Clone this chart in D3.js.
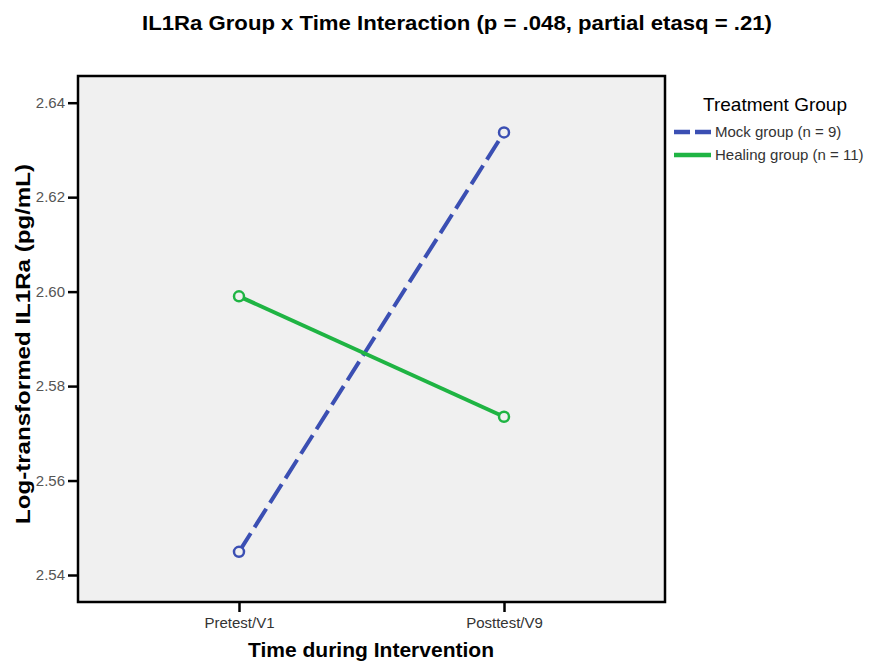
<!DOCTYPE html>
<html>
<head>
<meta charset="utf-8">
<script src="https://cdn.jsdelivr.net/npm/d3@7"></script>
<style>
  html, body { margin: 0; padding: 0; background: #fff; }
  svg { display: block; font-family: "Liberation Sans", Arial, sans-serif; }
</style>
</head>
<body>
<svg id="chart" width="874" height="662"></svg>
<script>
// Time points and estimated marginal means per group
const timePoints = ["Pretest/V1", "Posttest/V9"];
const mockMeans = [2.5449, 2.6337];
const healingMeans = [2.5990, 2.5735];
const groupNames = ["Mock group (n = 9)", "Healing group (n = 11)"];
const yTicks = [2.54, 2.56, 2.58, 2.60, 2.62, 2.64];

const series = [
  { name: groupNames[0], values: mockMeans, color: "#3b4fb3", dash: "22,7" },
  { name: groupNames[1], values: healingMeans, color: "#1fb443", dash: null }
];

const svg = d3.select("#chart");
const plot = { left: 78, right: 665, top: 76, bottom: 602 };

const x = d3.scalePoint().domain(timePoints)
  .range([plot.left, plot.right]).padding(0.6075);
const y = d3.scaleLinear().domain([2.54, 2.64]).range([575, 102.7]);

// Title
svg.append("text")
  .attr("x", 457).attr("y", 30)
  .attr("text-anchor", "middle")
  .attr("font-size", 21).attr("font-weight", "bold")
  .attr("textLength", 630).attr("lengthAdjust", "spacingAndGlyphs")
  .text("IL1Ra Group x Time Interaction (p = .048, partial etasq = .21)");

// Plot background
svg.append("rect")
  .attr("x", plot.left).attr("y", plot.top)
  .attr("width", plot.right - plot.left).attr("height", plot.bottom - plot.top)
  .attr("fill", "#f0f0f0");

// Y axis
const yAxis = svg.append("g")
  .attr("transform", `translate(${plot.left},0)`)
  .call(d3.axisLeft(y).tickValues(yTicks).tickFormat(d3.format(".2f")).tickSize(10).tickSizeOuter(0));
yAxis.select(".domain").remove();
yAxis.selectAll(".tick line").attr("stroke", "#000").attr("stroke-width", 2.5);
yAxis.selectAll(".tick text")
  .attr("font-size", 15).attr("fill", "#555")
  .attr("font-family", "Liberation Sans, Arial, sans-serif")
  .attr("x", -13);

// X axis
const xAxis = svg.append("g")
  .attr("transform", `translate(0,${plot.bottom})`)
  .call(d3.axisBottom(x).tickSize(10).tickSizeOuter(0));
xAxis.select(".domain").remove();
xAxis.selectAll(".tick line").attr("stroke", "#000").attr("stroke-width", 2.5);
xAxis.selectAll(".tick text")
  .attr("font-size", 15).attr("fill", "#333")
  .attr("font-family", "Liberation Sans, Arial, sans-serif")
  .attr("y", 15);

// Frame
svg.append("rect")
  .attr("x", plot.left).attr("y", plot.top)
  .attr("width", plot.right - plot.left).attr("height", plot.bottom - plot.top)
  .attr("fill", "none").attr("stroke", "#000").attr("stroke-width", 2.5);

// Axis titles
svg.append("text")
  .attr("x", 371).attr("y", 657)
  .attr("text-anchor", "middle")
  .attr("font-size", 20).attr("font-weight", "bold")
  .attr("textLength", 246).attr("lengthAdjust", "spacingAndGlyphs")
  .text("Time during Intervention");

svg.append("text")
  .attr("transform", "translate(30,344) rotate(-90)")
  .attr("text-anchor", "middle")
  .attr("font-size", 20).attr("font-weight", "bold")
  .attr("textLength", 360).attr("lengthAdjust", "spacingAndGlyphs")
  .text("Log-transformed IL1Ra (pg/mL)");

// Lines and markers
const line = d3.line().x((d, i) => x(timePoints[i])).y(d => y(d));

series.forEach(s => {
  svg.append("path")
    .datum(s.values)
    .attr("d", line)
    .attr("fill", "none")
    .attr("stroke", s.color)
    .attr("stroke-width", 4)
    .attr("stroke-dasharray", s.dash);
  svg.selectAll(null)
    .data(s.values)
    .enter().append("circle")
    .attr("cx", (d, i) => x(timePoints[i]))
    .attr("cy", d => y(d))
    .attr("r", 5)
    .attr("fill", "#f0f0f0")
    .attr("stroke", s.color)
    .attr("stroke-width", 2.5);
});

// Legend
const legend = svg.append("g");
legend.append("text")
  .attr("x", 775).attr("y", 111)
  .attr("text-anchor", "middle")
  .attr("font-size", 19)
  .text("Treatment Group");

series.forEach((s, i) => {
  const ly = 132 + i * 23;
  legend.append("line")
    .attr("x1", 674).attr("x2", 711)
    .attr("y1", ly).attr("y2", ly)
    .attr("stroke", s.color).attr("stroke-width", 4.5)
    .attr("stroke-dasharray", s.dash ? "16,5" : null);
  legend.append("text")
    .attr("x", 715).attr("y", ly + 5)
    .attr("font-size", 15).attr("fill", "#333")
    .text(s.name);
});
</script>
</body>
</html>
